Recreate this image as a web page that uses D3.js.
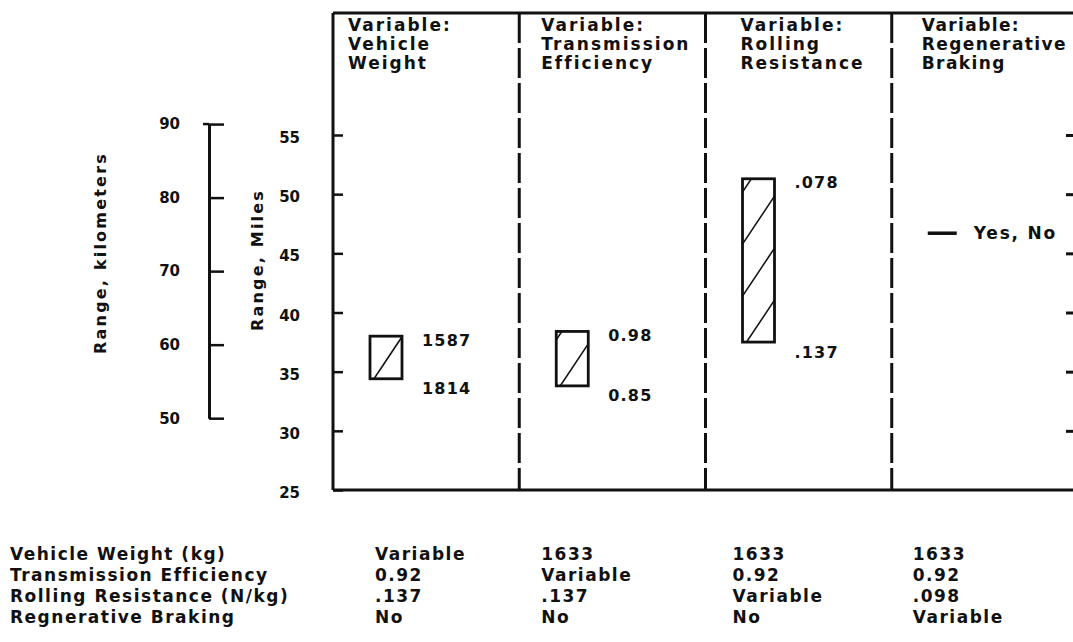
<!DOCTYPE html>
<html>
<head>
<meta charset="utf-8">
<script src="https://cdn.jsdelivr.net/npm/d3@7"></script>
<style>
  html, body { margin: 0; padding: 0; background: #fff; }
  svg text { font-family: "DejaVu Sans", sans-serif; font-weight: bold; fill: #111; }
</style>
</head>
<body>
<svg id="chart" width="1073" height="642"></svg>
<script>
// ---------------- data ----------------
const panels = ["Vehicle Weight", "Transmission Efficiency", "Rolling Resistance", "Regenerative Braking"];
const panelTitles = [
  ["Variable:", "Vehicle", "Weight"],
  ["Variable:", "Transmission", "Efficiency"],
  ["Variable:", "Rolling", "Resistance"],
  ["Variable:", "Regenerative", "Braking"]
];
const rangeHigh = [38.0, 38.4, 51.3, 46.7];   // miles
const rangeLow  = [34.4, 33.8, 37.5, 46.7];   // miles
const highLabels = ["1587", "0.98", ".078", "Yes, No"];
const lowLabels  = ["1814", "0.85", ".137", ""];
const mileTicks = [25, 30, 35, 40, 45, 50, 55];
const rightTicks = [30, 35, 40, 45, 50, 55];
const kmTicks = [50, 60, 70, 80, 90];
const rowLabels = ["Vehicle Weight (kg)", "Transmission Efficiency", "Rolling Resistance (N/kg)", "Regnerative Braking"];
const colVehicleWeight = ["Variable", "1633", "1633", "1633"];
const colTransmission  = ["0.92", "Variable", "0.92", "0.92"];
const colRolling       = [".137", ".137", "Variable", ".098"];
const colRegen         = ["No", "No", "No", "Variable"];

// ---------------- layout ----------------
const svg = d3.select("#chart");
const KM_TO_MI = 0.621371;
const plotTop = 13, plotBottom = 490, plotLeft = 333, rightEdge = 1078;
const y = d3.scaleLinear().domain([25, 55]).range([plotBottom, 135]);
const x = d3.scaleBand().domain(panels).range([plotLeft, rightEdge]);
const ink = "#111";

// frame
const frame = svg.append("g").attr("stroke", ink).attr("stroke-width", 3).attr("fill", "none");
frame.append("line").attr("x1", plotLeft).attr("x2", 1073).attr("y1", plotTop).attr("y2", plotTop);
frame.append("line").attr("x1", plotLeft).attr("x2", 1073).attr("y1", plotBottom).attr("y2", plotBottom);
frame.append("line").attr("x1", plotLeft).attr("x2", plotLeft).attr("y1", plotTop).attr("y2", plotBottom);
frame.selectAll("line.div").data(panels.slice(1)).join("line")
  .attr("class", "div")
  .attr("x1", d => x(d)).attr("x2", d => x(d))
  .attr("y1", plotTop).attr("y2", plotBottom)
  .attr("stroke-dasharray", "30,5");

// miles axis
const gMi = svg.append("g").attr("transform", `translate(${plotLeft},0)`)
  .call(d3.axisLeft(y).tickValues(mileTicks).tickSize(-10).tickPadding(33).tickFormat(d3.format("d")));
gMi.select(".domain").remove();
gMi.selectAll(".tick line").attr("stroke", ink).attr("stroke-width", 2.5);
gMi.selectAll(".tick text").attr("font-size", 15).attr("font-family", "DejaVu Sans").attr("font-weight", "bold").attr("fill", ink).attr("dy", "0.5em");

// right-side ticks (axis off the page)
const gR = svg.append("g").attr("transform", `translate(${rightEdge},0)`)
  .call(d3.axisLeft(y).tickValues(rightTicks).tickSize(12).tickFormat(""));
gR.select(".domain").remove();
gR.selectAll(".tick line").attr("stroke", ink).attr("stroke-width", 3);

// km axis
const yKm = d3.scaleLinear().domain([50, 90]).range([y(50 * KM_TO_MI), y(90 * KM_TO_MI)]);
const gKm = svg.append("g").attr("transform", "translate(209,0)")
  .call(d3.axisLeft(yKm).tickValues(kmTicks).tickSize(-15).tickSizeOuter(0).tickPadding(29).tickFormat(d3.format("d")));
gKm.select(".domain").attr("stroke", ink).attr("stroke-width", 3);
gKm.selectAll(".tick line").attr("stroke", ink).attr("stroke-width", 2.5);
gKm.selectAll(".tick text").attr("font-size", 15).attr("font-family", "DejaVu Sans").attr("font-weight", "bold").attr("fill", ink);
svg.append("line").attr("x1", 203).attr("x2", 209).attr("y1", yKm(90)).attr("y2", yKm(90))
  .attr("stroke", ink).attr("stroke-width", 2.5);

// axis titles
svg.append("text").attr("transform", "translate(106,253) rotate(-90)")
  .attr("text-anchor", "middle").attr("font-size", 16).attr("letter-spacing", 2.2)
  .text("Range, kilometers");
svg.append("text").attr("transform", "translate(263,260) rotate(-90)")
  .attr("text-anchor", "middle").attr("font-size", 16).attr("letter-spacing", 2.2)
  .text("Range, Miles");

// panel titles
const titleOffset = [15, 22, 35, 30];
const titleSpacing = [2, 2, 2, 1.4];
panels.forEach((p, i) => {
  svg.append("text").attr("x", x(p) + titleOffset[i]).attr("y", 31)
    .attr("font-size", 17).attr("letter-spacing", titleSpacing[i])
    .selectAll("tspan").data(panelTitles[i]).join("tspan")
    .attr("x", x(p) + titleOffset[i]).attr("dy", (d, j) => j === 0 ? 0 : 19)
    .text(d => d);
});

// range boxes with hatching
const boxOff = 37, boxW = 32, hatchRise = 48, hatchGap = 52;
const defs = svg.append("defs");
panels.forEach((p, i) => {
  const x0 = x(p) + boxOff, x1 = x0 + boxW;
  const yt = y(rangeHigh[i]), yb = y(rangeLow[i]);
  const h = yb - yt;
  if (h > 1) {
    const cid = "clip" + i;
    defs.append("clipPath").attr("id", cid).append("rect")
      .attr("x", x0).attr("y", yt).attr("width", boxW).attr("height", h);
    const hatch = svg.append("g").attr("clip-path", `url(#${cid})`)
      .attr("stroke", ink).attr("stroke-width", 1.6);
    const n = Math.ceil(h / hatchGap) + 2;
    d3.range(-1, n).forEach(k => {
      const ys = yb + 6 - k * hatchGap;
      hatch.append("line").attr("x1", x0).attr("y1", ys).attr("x2", x1).attr("y2", ys - hatchRise);
    });
    svg.append("rect").attr("x", x0).attr("y", yt).attr("width", boxW).attr("height", h)
      .attr("fill", "none").attr("stroke", ink).attr("stroke-width", 2.8);
    svg.append("text").attr("x", x(p) + 89).attr("y", yt + 4).attr("dy", "0.35em")
      .attr("font-size", 16).attr("letter-spacing", 1.2).text(highLabels[i]);
    svg.append("text").attr("x", x(p) + 89).attr("y", yb + 10).attr("dy", "0.35em")
      .attr("font-size", 16).attr("letter-spacing", 1.2).text(lowLabels[i]);
  } else {
    svg.append("line").attr("x1", x0 - 1).attr("x2", x0 + 28).attr("y1", yt).attr("y2", yt)
      .attr("stroke", ink).attr("stroke-width", 3.5);
    svg.append("text").attr("x", x0 + 45).attr("y", yt).attr("dy", "0.35em")
      .attr("font-size", 17).attr("letter-spacing", 1.8).text(highLabels[i]);
  }
});

// table below
const rowY = [560, 581, 602, 623];
const colOffset = [42, 22, 27, 21];
const columns = [colVehicleWeight, colTransmission, colRolling, colRegen];
svg.append("g").selectAll("text").data(rowLabels).join("text")
  .attr("x", 10).attr("y", (d, i) => rowY[i])
  .attr("font-size", 17).attr("letter-spacing", 1.5).text(d => d);
columns.forEach((row, r) => {
  row.forEach((v, c) => {
    svg.append("text").attr("x", x(panels[c]) + colOffset[c]).attr("y", rowY[r])
      .attr("font-size", 17).attr("letter-spacing", 1.5).text(v);
  });
});
</script>
</body>
</html>
